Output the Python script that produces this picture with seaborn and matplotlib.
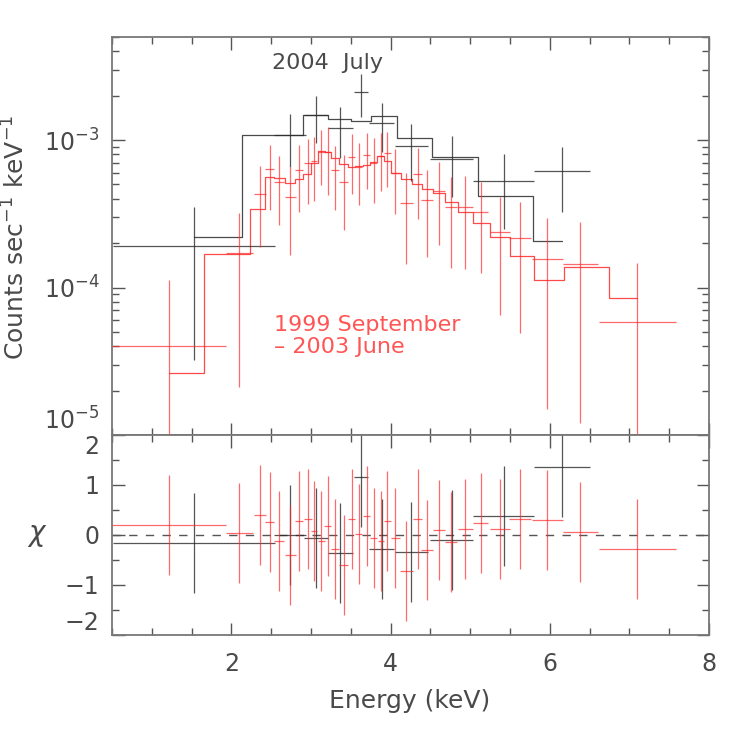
import matplotlib
matplotlib.use('Agg')
import matplotlib.pyplot as plt
import seaborn as sns
import pandas as pd
from matplotlib.ticker import LogLocator, MultipleLocator, NullFormatter

# 2004 July spectrum (black)
jul_e = [1.53, 2.74, 3.06, 3.37, 3.63, 3.89, 4.26, 4.77, 5.42, 6.15]
jul_de = [1.02, 0.20, 0.15, 0.16, 0.09, 0.155, 0.21, 0.27, 0.38, 0.35]
jul_rate = [1.92e-4, 1.08e-3, 1.47e-3, 1.21e-3, 2.11e-3, 1.30e-3, 9.07e-4, 7.40e-4, 5.25e-4, 6.13e-4]
jul_err = [1.60e-4, 4.2e-4, 5.2e-4, 4.55e-4, 6.75e-4, 4.7e-4, 3.8e-4, 3.3e-4, 2.76e-4, 2.9e-4]
jul_model = [2.19e-4, 1.08e-3, 1.47e-3, 1.39e-3, 1.35e-3, 1.45e-3, 1.04e-3, 7.70e-4, 4.19e-4, 2.06e-4]
jul_chi = [-0.17, 0.0, -0.07, -0.37, 1.15, -0.29, -0.35, -0.11, 0.37, 1.36]

# 1999 September - 2003 June spectrum (red)
sep_e = [1.22, 2.10, 2.36, 2.48, 2.60, 2.74, 2.85, 2.96, 3.04, 3.13, 3.21, 3.30, 3.41, 3.51, 3.60, 3.70,
         3.79, 3.88, 3.96, 4.06, 4.20, 4.34, 4.46, 4.61, 4.76, 4.94, 5.13, 5.37, 5.63, 5.97, 6.38, 7.10]
sep_de = [0.716, 0.167, 0.075, 0.057, 0.063, 0.072, 0.053, 0.048, 0.041, 0.041, 0.041, 0.046, 0.057, 0.048,
          0.046, 0.046, 0.044, 0.041, 0.044, 0.06, 0.079, 0.057, 0.073, 0.075, 0.079, 0.094, 0.098, 0.126,
          0.136, 0.195, 0.22, 0.487]
sep_rate = [4.03e-5, 1.71e-4, 4.28e-4, 6.33e-4, 5.21e-4, 4.11e-4, 6.23e-4, 6.95e-4, 7.21e-4, 8.33e-4,
            8.25e-4, 6.23e-4, 5.19e-4, 7.63e-4, 6.61e-4, 7.95e-4, 7.02e-4, 7.79e-4, 8.12e-4, 5.94e-4,
            3.72e-4, 5.90e-4, 3.92e-4, 4.51e-4, 3.50e-4, 3.50e-4, 3.24e-4, 2.39e-4, 2.16e-4, 1.55e-4,
            1.44e-4, 5.86e-5]
sep_err = [7.2e-5, 1.5e-4, 2.4e-4, 2.96e-4, 2.56e-4, 2.44e-4, 3.0e-4, 3.25e-4, 3.33e-4, 3.37e-4, 4.0e-4,
           2.88e-4, 2.75e-4, 3.29e-4, 3.0e-4, 3.28e-4, 3.25e-4, 3.3e-4, 3.28e-4, 2.77e-4, 2.27e-4, 3.0e-4,
           2.3e-4, 2.56e-4, 2.15e-4, 2.17e-4, 1.99e-4, 1.74e-4, 1.67e-4, 1.40e-4, 1.32e-4, 8.7e-5]
sep_model = [2.65e-5, 1.69e-4, 3.39e-4, 5.58e-4, 5.52e-4, 5.13e-4, 5.41e-4, 5.88e-4, 6.95e-4, 8.46e-4,
             8.25e-4, 7.55e-4, 6.84e-4, 6.53e-4, 6.63e-4, 6.80e-4, 7.06e-4, 7.79e-4, 7.24e-4, 5.94e-4,
             5.41e-4, 5.01e-4, 4.63e-4, 4.35e-4, 3.82e-4, 3.27e-4, 2.75e-4, 2.19e-4, 1.64e-4, 1.12e-4,
             1.37e-4, 8.45e-5]
sep_chi = [0.19, 0.03, 0.39, 0.25, -0.13, -0.41, 0.27, 0.31, 0.07, -0.12, 0.17, -0.29, -0.61, 0.31, 0.01,
           0.37, -0.06, -0.13, 0.28, -0.07, -0.73, 0.31, -0.31, 0.09, -0.15, 0.11, 0.23, 0.11, 0.31, 0.30,
           0.05, -0.29]

sns.set_theme(style='ticks')
plt.rcParams['font.family'] = ['DejaVu Sans']
plt.rcParams['mathtext.fontset'] = 'dejavusans'

blk = '#2a2a2a'
red = '#ff2a2a'
txt = '#4a4a4a'

fig = plt.figure(figsize=(7.47, 7.47), dpi=100)
ax1 = fig.add_axes([0.1499, 0.4177, 0.7992, 0.5328])
ax2 = fig.add_axes([0.1499, 0.15, 0.7992, 0.2677], sharex=ax1)

ax1.set_yscale('log')

jul_df = pd.DataFrame({'energy': jul_e, 'model': jul_model})
sep_df = pd.DataFrame({'energy': sep_e, 'model': sep_model})

# model histograms
sns.lineplot(data=jul_df, x='energy', y='model', drawstyle='steps-mid', estimator=None,
             color=blk, lw=0.9, alpha=0.85, ax=ax1)
sns.lineplot(data=sep_df, x='energy', y='model', drawstyle='steps-mid', estimator=None,
             color=red, lw=0.9, alpha=0.85, ax=ax1)

# data crosses
ax1.errorbar(jul_e, jul_rate, xerr=jul_de, yerr=jul_err, fmt='none', ecolor=blk,
             elinewidth=0.9, alpha=0.8, capsize=0)
ax1.errorbar(sep_e, sep_rate, xerr=sep_de, yerr=sep_err, fmt='none', ecolor=red,
             elinewidth=0.9, alpha=0.7, capsize=0)

ax1.set_xlim(0.5, 8)
ax1.set_ylim(1e-5, 5e-3)
ax1.set_xlabel('')
ax1.set_ylabel('')

ax1.text(2.506, 3.31e-3, '2004  July', color=txt, fontsize=16, ha='left', va='center')
ax1.text(2.535, 5.57e-5, '1999 September', color='#ff5555', fontsize=16, ha='left', va='center')
ax1.text(2.535, 3.95e-5, '\u2013 2003 June', color='#ff5555', fontsize=16, ha='left', va='center')

# residual panel
ax2.axhline(0, color='#555555', lw=1.0, ls=(0, (6, 6)))
ax2.errorbar(jul_e, jul_chi, xerr=jul_de, yerr=1.0, fmt='none', ecolor=blk,
             elinewidth=0.9, alpha=0.8, capsize=0)
ax2.errorbar(sep_e, sep_chi, xerr=sep_de, yerr=1.0, fmt='none', ecolor=red,
             elinewidth=0.9, alpha=0.7, capsize=0)
ax2.set_ylim(-2, 2)

# ticks
ax1.yaxis.set_major_locator(LogLocator(base=10, numticks=10))
ax1.yaxis.set_minor_locator(LogLocator(base=10, subs=range(2, 10), numticks=20))
ax1.yaxis.set_minor_formatter(NullFormatter())
ax2.xaxis.set_major_locator(MultipleLocator(2))
ax2.xaxis.set_minor_locator(MultipleLocator(0.5))
ax2.yaxis.set_major_locator(MultipleLocator(1))
ax2.yaxis.set_minor_locator(MultipleLocator(0.5))

for ax in (ax1, ax2):
    ax.tick_params(which='both', direction='in', top=True, right=True, colors='#555555',
                   labelcolor=txt, labelsize=17)
    ax.tick_params(which='major', length=9, width=1.0)
    ax.tick_params(which='minor', length=5, width=1.0)
    for s in ax.spines.values():
        s.set_color('#777777')
        s.set_linewidth(1.3)
ax1.tick_params(axis='x', labelbottom=False)
ax1.tick_params(axis='y', pad=9)
ax2.tick_params(axis='y', pad=9)
ax2.tick_params(axis='x', pad=12)
ax2.set_xlabel('')
ax2.set_ylabel('')

fig.canvas.draw()
for lab in ax1.get_yticklabels():
    if abs(lab.get_position()[1] - 1e-5) < 1e-9:
        lab.set_va('bottom')
for lab in ax2.get_yticklabels():
    y = lab.get_position()[1]
    if y > 1.5:
        lab.set_va('top')
    elif y < -1.5:
        lab.set_va('bottom')

fig.text(0.549, 0.062, 'Energy (keV)', color=txt, fontsize=18, ha='center', va='center')
fig.text(0.021, 0.683, r'Counts sec$^{-1}$ keV$^{-1}$', color=txt, fontsize=18,
         rotation=90, ha='center', va='center')
fig.text(0.05, 0.284, r'$\chi$', color=txt, fontsize=20, ha='center', va='center')

fig.savefig('out.png', dpi=100, facecolor='white')
